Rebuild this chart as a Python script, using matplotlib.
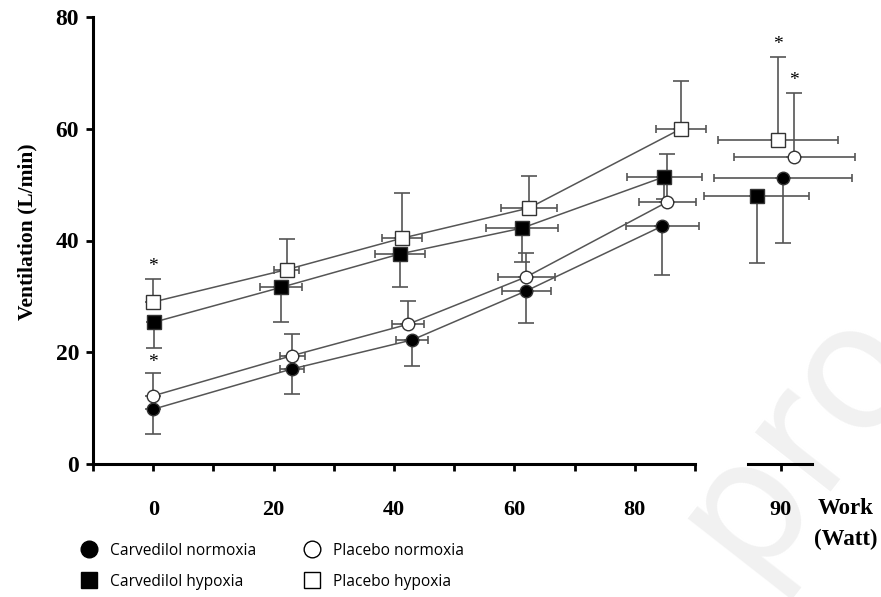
import matplotlib.pyplot as plt
import numpy as np
from matplotlib.lines import Line2D

# x = mean work (W), y = ventilation (L/min); err = one-sided SD
series_names = ["Carvedilol normoxia", "Carvedilol hypoxia", "Placebo normoxia", "Placebo hypoxia"]

# stages 0..80 W (connected by lines)
cn_x    = [0.0, 23.0, 43.0, 62.0, 84.6]
cn_y    = [9.8, 17.0, 22.2, 31.0, 42.6]
cn_yerr = [4.4, 4.5, 4.7, 5.8, 8.8]
cn_xerr = [0.0, 2.0, 2.7, 4.1, 6.1]

ch_x    = [0.2, 21.2, 41.0, 61.2, 84.9]
ch_y    = [25.4, 31.6, 37.6, 42.2, 51.4]
ch_yerr = [4.6, 6.2, 6.0, 6.0, 4.0]
ch_xerr = [0.0, 3.5, 4.1, 6.0, 6.2]

pn_x    = [0.0, 23.1, 42.3, 62.0, 85.4]
pn_y    = [12.2, 19.4, 25.0, 33.5, 46.9]
pn_yerr = [4.1, 3.9, 4.2, 4.2, 8.6]
pn_xerr = [0.0, 2.1, 2.7, 4.7, 4.7]

ph_x    = [0.0, 22.2, 41.3, 62.4, 87.7]
ph_y    = [29.0, 34.8, 40.4, 45.8, 60.0]
ph_yerr = [4.1, 5.4, 8.1, 5.7, 8.5]
ph_xerr = [0.0, 2.1, 3.3, 4.6, 4.1]

# peak stage (~90 W), plotted on the broken part of the axis
peak_x    = [90.3, 86.0, 92.2, 89.5]     # CN, CH, PN, PH
peak_y    = [51.2, 48.0, 54.9, 58.0]
peak_yerr = [11.7, 12.0, 11.5, 14.8]
peak_xerr = [11.4, 8.7, 10.0, 10.0]

x_ticks = [0, 20, 40, 60, 80]

fill   = ['black', 'black', 'white', 'white']
marker = ['o', 's', 'o', 's']
msize  = [9, 10, 9, 10]
upper  = [False, False, True, True]   # placebo: upper bars, carvedilol: lower bars
gray   = '#555555'

plt.rcParams['font.family'] = ['Liberation Serif', 'DejaVu Serif']
plt.rcParams['font.weight'] = 'bold'

fig = plt.figure(figsize=(8.81, 5.97), dpi=100)

# watermark (behind everything)
fig.text(0.905, 0.27, 'pro', rotation=52, fontsize=125, color='#f1f1f1', ha='center', va='center',
         family='DejaVu Sans', fontweight='normal', zorder=-10)

ax  = fig.add_axes([93/881, 1-464/597, 602/881, 447/597])
ax2 = fig.add_axes([700/881, 1-464/597, 170/881, 447/597], sharey=ax)
for a in (ax, ax2):
    a.set_facecolor('none')

data = [(cn_x, cn_y, cn_yerr, cn_xerr), (ch_x, ch_y, ch_yerr, ch_xerr),
        (pn_x, pn_y, pn_yerr, pn_xerr), (ph_x, ph_y, ph_yerr, ph_xerr)]

for i, (xs, ys, ye, xe) in enumerate(data):
    xs = np.array(xs); ys = np.array(ys); ye = np.array(ye); xe = np.array(xe)
    yerr = [np.zeros_like(ye), ye] if upper[i] else [ye, np.zeros_like(ye)]
    ax.plot(xs, ys, color=gray, lw=1.1, zorder=2)
    ax.errorbar(xs, ys, yerr=yerr, fmt='none', ecolor=gray, elinewidth=1.2, capsize=6, capthick=1.2, zorder=3, clip_on=False)
    ax.errorbar(xs[1:], ys[1:], xerr=xe[1:], fmt='none', ecolor=gray, elinewidth=1.2, capsize=3, capthick=1.2, zorder=3, clip_on=False)
    ax.plot(xs, ys, ls='none', marker=marker[i], ms=msize[i], mfc=fill[i], mec='#333333', mew=1.0, zorder=4, clip_on=False)
    # peak
    px, py, pe, pxe = peak_x[i], peak_y[i], peak_yerr[i], peak_xerr[i]
    yerr2 = [[0], [pe]] if upper[i] else [[pe], [0]]
    ax2.errorbar([px], [py], yerr=yerr2, fmt='none', ecolor=gray, elinewidth=1.2, capsize=6, capthick=1.2, zorder=3, clip_on=False)
    ax2.errorbar([px], [py], xerr=[pxe], fmt='none', ecolor=gray, elinewidth=1.2, capsize=3, capthick=1.2, zorder=3, clip_on=False)
    ax2.plot([px], [py], ls='none', marker=marker[i], ms=msize[i], mfc=fill[i], mec='#333333', mew=1.0, zorder=4, clip_on=False)

# significance stars
star = dict(ha='center', va='bottom', fontsize=14, fontweight='normal')
ax.text(ph_x[0], ph_y[0] + ph_yerr[0] + 0.8, '*', **star)
ax.text(pn_x[0], pn_y[0] + pn_yerr[0] + 0.3, '*', **star)
ax2.text(peak_x[3], peak_y[3] + peak_yerr[3] + 0.8, '*', **star)
ax2.text(peak_x[2], peak_y[2] + peak_yerr[2] + 0.8, '*', **star)

ax.set_xlim(-10, 90)
ax.set_ylim(0, 80)
ax.set_xticks(x_ticks)
ax.set_xticks([-10, 10, 30, 50, 70, 90], minor=True)
ax.set_yticks([0, 20, 40, 60, 80])
ax.spines['top'].set_visible(False)
ax.spines['right'].set_visible(False)
ax.spines['left'].set_linewidth(2.2)
ax.spines['bottom'].set_linewidth(2.2)
ax.tick_params(axis='both', which='both', direction='out', width=2, length=5)
ax.tick_params(axis='x', which='major', pad=21, labelsize=16)
ax.tick_params(axis='y', pad=5, labelsize=17)
ax.set_ylabel('Ventilation (L/min)', fontsize=15.5, fontweight='bold')
ax.yaxis.set_label_coords(-0.093, 0.519)

ax2.set_xlim(76.57, 104.76)
for s in ['top', 'right', 'left']:
    ax2.spines[s].set_visible(False)
ax2.spines['bottom'].set_linewidth(2.2)
ax2.spines['bottom'].set_bounds(84.5, 95.1)
ax2.set_xticks([90])
ax2.tick_params(axis='x', direction='out', width=2, length=5, labelsize=16, pad=21)
ax2.tick_params(axis='y', left=False, labelleft=False)

fig.text(846/881, 1-509/597, 'Work', ha='center', va='center', fontsize=16.5, fontweight='bold')
fig.text(846/881, 1-539/597, '(Watt)', ha='center', va='center', fontsize=16.5, fontweight='bold')

handles = [Line2D([], [], ls='none', marker=marker[i], ms=12, mfc=fill[i], mec='black', mew=1.0) for i in range(4)]
fig.legend(handles, series_names, ncol=2, loc='upper left', bbox_to_anchor=(73/881, 1-535/597),
           frameon=False, prop={'family': 'Open Sans', 'size': 11.2, 'weight': 'normal'},
           handlelength=1.0, handletextpad=0.85, columnspacing=3.1, labelspacing=0.95, borderpad=0)

fig.savefig('out.png', dpi=100)
